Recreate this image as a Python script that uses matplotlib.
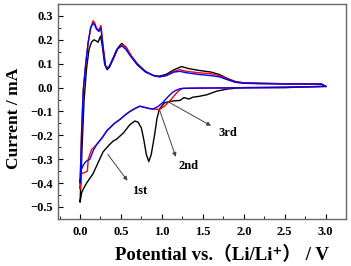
"""Cyclic voltammetry curves, first three cycles"""

import matplotlib
matplotlib.use("Agg")
import matplotlib.pyplot as plt
from matplotlib.ticker import MultipleLocator

plt.rcParams['font.family'] = ['Liberation Serif', 'Noto Sans CJK SC', 'DejaVu Sans']
plt.rcParams['font.weight'] = 'bold'

# cathodic sweeps (3.0 V -> 0.0 V)
v_cat_1 = [3.0, 2.5, 2.0, 1.8, 1.67, 1.55, 1.45, 1.38, 1.33, 1.27, 1.22, 1.13, 1.03,
           0.97, 0.94, 0.91, 0.87, 0.84, 0.81, 0.78, 0.75, 0.71, 0.67, 0.61, 0.53,
           0.45, 0.40, 0.33, 0.28, 0.24, 0.20, 0.16, 0.12, 0.08, 0.04, 0.02, 0.0]
i_cat_1 = [0.005, 0.002, 0.0, -0.006, -0.015, -0.03, -0.037, -0.04, -0.048, -0.042,
           -0.054, -0.056, -0.064, -0.09, -0.13, -0.2, -0.28, -0.31, -0.28, -0.22,
           -0.17, -0.145, -0.14, -0.155, -0.19, -0.215, -0.225, -0.25, -0.27, -0.3,
           -0.33, -0.36, -0.38, -0.4, -0.425, -0.44, -0.48]

v_cat_2 = [3.0, 2.5, 2.0, 1.5, 1.25, 1.2, 1.16, 1.1, 1.03, 0.97, 0.9, 0.85, 0.79,
           0.73, 0.67, 0.61, 0.55, 0.49, 0.42, 0.33, 0.27, 0.2, 0.14, 0.1, 0.09,
           0.06, 0.02, 0.0]
i_cat_2 = [0.005, 0.0, -0.001, -0.002, -0.003, -0.015, -0.03, -0.055, -0.078, -0.092,
           -0.09, -0.088, -0.083, -0.078, -0.088, -0.1, -0.115, -0.133, -0.15, -0.18,
           -0.21, -0.24, -0.26, -0.3, -0.35, -0.355, -0.36, -0.425]

v_cat_3 = [3.0, 2.5, 2.0, 1.5, 1.3, 1.22, 1.17, 1.13, 1.07, 1.01, 0.95, 0.89, 0.85,
           0.79, 0.73, 0.67, 0.61, 0.55, 0.49, 0.42, 0.33, 0.27, 0.2, 0.16, 0.12,
           0.07, 0.04, 0.02, 0.0]
i_cat_3 = [0.005, 0.0, -0.001, -0.002, -0.003, -0.005, -0.012, -0.02, -0.04, -0.063,
           -0.08, -0.09, -0.088, -0.083, -0.078, -0.088, -0.1, -0.115, -0.133, -0.15,
           -0.18, -0.21, -0.24, -0.265, -0.3, -0.31, -0.325, -0.34, -0.4]

# anodic sweeps (0.0 V -> 3.0 V)
v_an_1 = [0.0, 0.01, 0.025, 0.05, 0.08, 0.11, 0.14, 0.17, 0.2, 0.22, 0.25, 0.27,
          0.3, 0.33, 0.36, 0.42, 0.47, 0.51, 0.56, 0.62, 0.7, 0.8, 0.9, 0.97, 1.05,
          1.15, 1.24, 1.32, 1.45, 1.6, 1.7, 1.8, 1.9, 2.0, 2.5, 2.95, 3.0]
i_an_1 = [-0.48, -0.4, -0.25, -0.05, 0.08, 0.16, 0.19, 0.2, 0.195, 0.19, 0.215, 0.18,
          0.1, 0.075, 0.085, 0.13, 0.17, 0.185, 0.17, 0.135, 0.1, 0.068, 0.05, 0.048,
          0.055, 0.075, 0.088, 0.08, 0.072, 0.065, 0.055, 0.038, 0.025, 0.02, 0.016,
          0.015, 0.005]

v_an_2 = [0.0, 0.01, 0.02, 0.04, 0.07, 0.1, 0.13, 0.16, 0.18, 0.2, 0.23, 0.255,
          0.28, 0.31, 0.33, 0.36, 0.4, 0.45, 0.52, 0.57, 0.63, 0.7, 0.8, 0.9, 0.97,
          1.05, 1.15, 1.22, 1.3, 1.45, 1.6, 1.7, 1.8, 1.9, 2.0, 2.2, 2.5, 2.8, 2.95, 3.0]
i_an_2 = [-0.425, -0.3, -0.18, -0.01, 0.1, 0.19, 0.25, 0.28, 0.27, 0.25, 0.24, 0.26,
          0.18, 0.095, 0.082, 0.09, 0.12, 0.16, 0.18, 0.165, 0.13, 0.097, 0.066, 0.05,
          0.045, 0.05, 0.068, 0.075, 0.068, 0.062, 0.058, 0.05, 0.035, 0.023, 0.019,
          0.017, 0.016, 0.015, 0.014, 0.005]

v_an_3 = [0.0, 0.01, 0.02, 0.04, 0.07, 0.1, 0.13, 0.16, 0.18, 0.2, 0.23, 0.255,
          0.28, 0.31, 0.33, 0.36, 0.4, 0.45, 0.51, 0.56, 0.62, 0.7, 0.8, 0.9, 0.97,
          1.05, 1.15, 1.22, 1.3, 1.45, 1.6, 1.7, 1.8, 1.9, 2.0, 2.2, 2.5, 2.8, 2.95, 3.0]
i_an_3 = [-0.4, -0.3, -0.18, -0.01, 0.1, 0.19, 0.25, 0.27, 0.262, 0.245, 0.235, 0.25,
          0.17, 0.09, 0.08, 0.09, 0.12, 0.16, 0.175, 0.16, 0.13, 0.095, 0.065, 0.05,
          0.045, 0.05, 0.065, 0.068, 0.062, 0.055, 0.05, 0.045, 0.033, 0.022, 0.018,
          0.016, 0.015, 0.015, 0.014, 0.005]

cycles = [
    (v_cat_1 + v_an_1, i_cat_1 + i_an_1, "black"),
    (v_cat_2 + v_an_2, i_cat_2 + i_an_2, "red"),
    (v_cat_3 + v_an_3, i_cat_3 + i_an_3, "blue"),
]

# arrow tail (on the curve), arrow tip, label position
labels = ["1st", "2nd", "3rd"]
tails = [(0.34, -0.28), (0.97, -0.092), (1.07, -0.058)]
tips = [(0.58, -0.39), (1.17, -0.29), (1.6, -0.16)]
text_pos = [(0.73, -0.435), (1.33, -0.33), (1.8, -0.19)]

fig = plt.figure(figsize=(3.51, 2.66), dpi=100)
ax = fig.add_axes([0.165, 0.177, 0.821, 0.808])

for v, i, c in cycles:
    ax.plot(v, i, color=c, lw=1.0)

for lab, t0, t1, tp in zip(labels, tails, tips, text_pos):
    ax.annotate("", xy=t1, xytext=t0,
                arrowprops=dict(arrowstyle="-|>", color="#444444", lw=0.7,
                                mutation_scale=6, shrinkA=0, shrinkB=0))
    ax.text(tp[0], tp[1], lab, fontsize=9, fontweight="bold",
            ha="center", va="center")

ax.set_xlim(-0.27, 3.25)
ax.set_ylim(-0.55, 0.35)
ax.xaxis.set_major_locator(MultipleLocator(0.5))
ax.xaxis.set_minor_locator(MultipleLocator(0.25))
ax.yaxis.set_major_locator(MultipleLocator(0.1))
ax.yaxis.set_minor_locator(MultipleLocator(0.05))
ax.tick_params(which="both", direction="in", labelsize=9, top=False, right=False)
ax.tick_params(axis="x", pad=5)
ax.tick_params(which="major", length=3.5, width=0.8)
ax.tick_params(which="minor", length=2, width=0.6)
for lbl in ax.get_xticklabels() + ax.get_yticklabels():
    lbl.set_fontweight("bold")
for s in ax.spines.values():
    s.set_color("#666666")
    s.set_linewidth(1.0)

ax.set_xlabel("Potential vs.\uff08Li/Li\u207a\uff09 / V", fontsize=13.5, fontweight="bold")
ax.xaxis.set_label_coords(0.57, -0.125)
ax.set_ylabel("Current / mA", fontsize=12.5, fontweight="bold")
ax.yaxis.set_label_coords(-0.125, 0.47)

fig.savefig("out.png", dpi=100)
